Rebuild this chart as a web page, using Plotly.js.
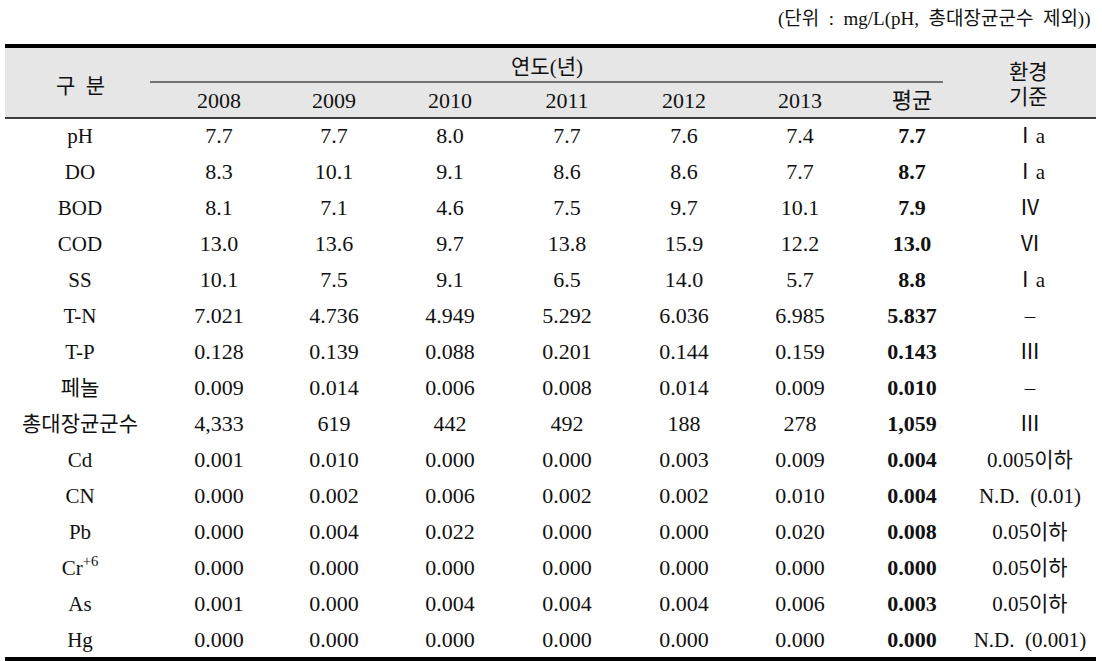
<!DOCTYPE html>
<html><head><meta charset="utf-8">
<script src="https://cdn.plot.ly/plotly-3.0.1.min.js"></script>
<style>html,body{margin:0;padding:0;background:#fff}#chart{width:1102px;height:661px}</style>
</head><body><div id="chart"></div>
<script>
// ---- data ----
var unitNote = "(단위\u00a0\u00a0:\u00a0\u00a0mg/L(pH,\u00a0\u00a0총대장균군수\u00a0\u00a0제외))";
var groupHeader = "연도(년)";
var itemHeader = "구\u00a0\u00a0분";
var years = ["2008", "2009", "2010", "2011", "2012", "2013"];
var avgHeader = "평균";
var stdHeader = ["환경", "기준"];
var items = ["pH", "DO", "BOD", "COD", "SS", "T-N", "T-P", "페놀", "총대장균군수", "Cd", "CN", "Pb", "Cr<sup>+6</sup>", "As", "Hg"];
var v2008 = ["7.7", "8.3", "8.1", "13.0", "10.1", "7.021", "0.128", "0.009", "4,333", "0.001", "0.000", "0.000", "0.000", "0.001", "0.000"];
var v2009 = ["7.7", "10.1", "7.1", "13.6", "7.5", "4.736", "0.139", "0.014", "619", "0.010", "0.002", "0.004", "0.000", "0.000", "0.000"];
var v2010 = ["8.0", "9.1", "4.6", "9.7", "9.1", "4.949", "0.088", "0.006", "442", "0.000", "0.006", "0.022", "0.000", "0.004", "0.000"];
var v2011 = ["7.7", "8.6", "7.5", "13.8", "6.5", "5.292", "0.201", "0.008", "492", "0.000", "0.002", "0.000", "0.000", "0.004", "0.000"];
var v2012 = ["7.6", "8.6", "9.7", "15.9", "14.0", "6.036", "0.144", "0.014", "188", "0.003", "0.002", "0.000", "0.000", "0.004", "0.000"];
var v2013 = ["7.4", "7.7", "10.1", "12.2", "5.7", "6.985", "0.159", "0.009", "278", "0.009", "0.010", "0.020", "0.000", "0.006", "0.000"];
var vAvg = ["7.7", "8.7", "7.9", "13.0", "8.8", "5.837", "0.143", "0.010", "1,059", "0.004", "0.004", "0.008", "0.000", "0.003", "0.000"];
var vStd = ["Ⅰa", "Ⅰa", "Ⅳ", "Ⅵ", "Ⅰa", "–", "Ⅲ", "–", "Ⅲ", "0.005이하", "N.D.\u00a0\u00a0(0.01)", "0.05이하", "0.05이하", "0.05이하", "N.D.\u00a0\u00a0(0.001)"];

// ---- layout (positions in px) ----
var W = 1102, H = 661;
var colX = [80, 219, 334, 450, 567, 684, 800, 912, 1030];
var row0 = 137.5, rowH = 36;
var FONT = "Liberation Serif, Noto Sans CJK KR, serif";
var fs = 22, col = "#111";
var rowIdx = items.map(function (_, i) { return i; });
function py(p) { return (p - row0) / rowH; }

var cols = [items, v2008, v2009, v2010, v2011, v2012, v2013, vAvg, vStd];
var traces = cols.map(function (vals, c) {
  return {
    type: "scatter", mode: "text", hoverinfo: "skip", showlegend: false,
    x: vals.map(function () { return colX[c]; }),
    y: rowIdx,
    text: c === 7 ? vals.map(function (s) { return "<b>" + s + "</b>"; }) : vals,
    textposition: "middle center",
    textfont: { family: FONT, size: (c === 0 || c === 8) ? 21 : fs, color: col }
  };
});
// header row of years + average
traces.push({
  type: "scatter", mode: "text", hoverinfo: "skip", showlegend: false,
  x: colX.slice(1, 8), y: colX.slice(1, 8).map(function () { return py(102); }),
  text: years.concat([avgHeader]),
  textposition: "middle center",
  textfont: { family: FONT, size: fs, color: col }
});

var L = 5, R = 1096;
var shapes = [
  { type: "rect", xref: "x", yref: "y", x0: L, x1: R, y0: py(47), y1: py(118), fillcolor: "#e6e6e6", line: { width: 0 }, layer: "below" },
  { type: "line", xref: "x", yref: "y", x0: L, x1: R, y0: py(46), y1: py(46), line: { color: "#000", width: 4 } },
  { type: "line", xref: "x", yref: "y", x0: 150, x1: 943, y0: py(82), y1: py(82), line: { color: "#000", width: 1 } },
  { type: "line", xref: "x", yref: "y", x0: L, x1: R, y0: py(118), y1: py(118), line: { color: "#000", width: 1.5 } },
  { type: "line", xref: "x", yref: "y", x0: L, x1: R, y0: py(659), y1: py(659), line: { color: "#000", width: 4 } }
];
var annotations = [
  { xref: "x", yref: "y", x: 1093, y: py(19), text: unitNote, showarrow: false, xanchor: "right", yanchor: "middle", font: { family: FONT, size: 19, color: col } },
  { xref: "x", yref: "y", x: colX[0], y: py(86), text: itemHeader, showarrow: false, xanchor: "center", yanchor: "middle", font: { family: FONT, size: 21, color: col } },
  { xref: "x", yref: "y", x: 547, y: py(67), text: groupHeader, showarrow: false, xanchor: "center", yanchor: "middle", font: { family: FONT, size: 21, color: col } },
  { xref: "x", yref: "y", x: 1028, y: py(72), text: stdHeader[0], showarrow: false, xanchor: "center", yanchor: "middle", font: { family: FONT, size: 21, color: col } },
  { xref: "x", yref: "y", x: 1028, y: py(97), text: stdHeader[1], showarrow: false, xanchor: "center", yanchor: "middle", font: { family: FONT, size: 21, color: col } }
];

var layout = {
  width: W, height: H, margin: { l: 0, r: 0, t: 0, b: 0 },
  paper_bgcolor: "#fff", plot_bgcolor: "#fff",
  xaxis: { range: [0, W], visible: false, fixedrange: true },
  yaxis: { range: [py(H), py(0)], visible: false, fixedrange: true },
  shapes: shapes, annotations: annotations
};
Plotly.newPlot("chart", traces, layout, { displayModeBar: false, staticPlot: true });
</script></body></html>
